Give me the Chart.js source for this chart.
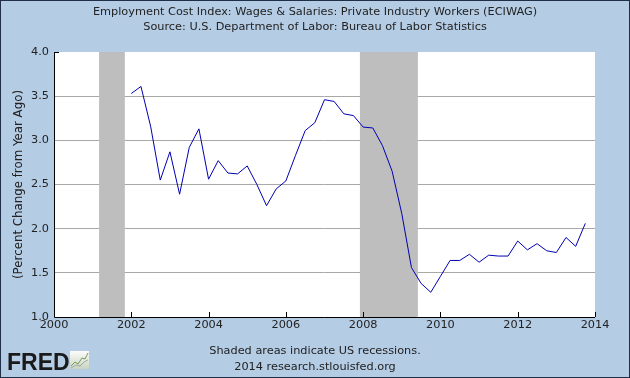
<!DOCTYPE html>
<html>
<head>
<meta charset="utf-8">
<script src="https://cdn.jsdelivr.net/npm/chart.js@4"></script>
<style>
  html, body { margin: 0; padding: 0; background: #b5cce5; }
  #wrap { width: 630px; height: 378px; }
</style>
</head>
<body>
<div id="wrap"><canvas id="myChart" width="630" height="378"></canvas></div>
<script>
// quarterly ECIWAG, % change from year ago, starting 2002 Q1
const startYear = 2002;
const wageGrowth = [
  3.53, 3.61, 3.16, 2.55,   // 2002
  2.87, 2.39, 2.92, 3.13,   // 2003
  2.56, 2.77, 2.63, 2.62,   // 2004
  2.71, 2.50, 2.26, 2.45,   // 2005
  2.54, 2.83, 3.11, 3.20,   // 2006
  3.46, 3.44, 3.30, 3.28,   // 2007
  3.15, 3.14, 2.94, 2.65,   // 2008
  2.17, 1.56, 1.38, 1.28,   // 2009
  1.46, 1.64, 1.64, 1.71,   // 2010
  1.62, 1.70, 1.69, 1.69,   // 2011
  1.86, 1.76, 1.83, 1.75,   // 2012
  1.73, 1.90, 1.80, 2.06    // 2013
];
// recession periods (start month, end month)
const recessions = [['2001-03', '2001-11'], ['2007-12', '2009-06']];
const xTicks = [2000, 2002, 2004, 2006, 2008, 2010, 2012, 2014];
const yTicks = [1.0, 1.5, 2.0, 2.5, 3.0, 3.5, 4.0];

const titleLines = [
  'Employment Cost Index: Wages & Salaries: Private Industry Workers (ECIWAG)',
  'Source: U.S. Department of Labor: Bureau of Labor Statistics'
];
const footerLines = ['Shaded areas indicate US recessions.', '2014 research.stlouisfed.org'];
const yTitle = '(Percent Change from Year Ago)';

const FONT = 'DejaVu Sans';

function monthToYear(s) {
  let p = s.split('-');
  return parseInt(p[0]) + (parseInt(p[1]) - 1) / 12;
}

let points = [];
for (let i = 0; i < wageGrowth.length; i++) {
  points.push({x: startYear + i / 4, y: wageGrowth[i]});
}

const fredPlugin = {
  id: 'fred',
  beforeDraw(chart) {
    const c = chart.ctx, a = chart.chartArea;
    c.save();
    c.fillStyle = '#b5cce5';
    c.fillRect(0, 0, chart.width, chart.height);
    c.fillStyle = '#ffffff';
    c.fillRect(a.left, a.top, a.right - a.left, a.bottom - a.top);
    c.restore();
  },
  beforeDatasetsDraw(chart) {
    // recession shading
    const c = chart.ctx, a = chart.chartArea, xs = chart.scales.x;
    c.save();
    c.fillStyle = '#bebebe';
    recessions.forEach(function(r) {
      let x0 = xs.getPixelForValue(monthToYear(r[0]));
      let x1 = xs.getPixelForValue(monthToYear(r[1]));
      c.fillRect(x0, a.top, x1 - x0, a.bottom - a.top);
    });
    c.restore();
  },
  afterDatasetsDraw(chart) {
    const c = chart.ctx, a = chart.chartArea, xs = chart.scales.x, ys = chart.scales.y;
    c.save();
    c.strokeStyle = '#000000';
    c.lineWidth = 1;
    c.beginPath();
    // axes
    c.moveTo(a.left + 0.5, a.top);
    c.lineTo(a.left + 0.5, a.bottom + 0.5);
    c.lineTo(a.right, a.bottom + 0.5);
    // inward ticks on x
    xTicks.forEach(function(t) {
      let px = Math.round(xs.getPixelForValue(t)) + 0.5;
      c.moveTo(px, a.bottom);
      c.lineTo(px, a.bottom - 5);
    });
    // top tick on y
    let py = Math.round(ys.getPixelForValue(4.0)) + 0.5;
    c.moveTo(a.left, py);
    c.lineTo(a.left + 5, py);
    c.stroke();

    // titles
    c.fillStyle = '#222222';
    c.font = '11.3px "' + FONT + '"';
    c.textAlign = 'center';
    c.textBaseline = 'middle';
    c.fillText(titleLines[0], 315, 12);
    c.fillText(titleLines[1], 315, 27);
    c.fillText(footerLines[0], 315, 351);
    c.fillText(footerLines[1], 315, 367);

    // FRED logo
    c.textAlign = 'left';
    c.textBaseline = 'alphabetic';
    c.font = 'bold 23px "Liberation Sans"';
    c.fillStyle = '#1a1a1a';
    c.fillText('FRED', 7, 370);
    let g = c.createLinearGradient(0, 350, 0, 369);
    g.addColorStop(0, '#ffffff');
    g.addColorStop(1, '#c8d4c0');
    c.fillStyle = g;
    c.fillRect(70, 351, 19, 18);
    c.strokeStyle = '#7c9a5c';
    c.beginPath();
    c.moveTo(71, 366); c.lineTo(75, 362); c.lineTo(78, 364); c.lineTo(82, 358); c.lineTo(85, 359); c.lineTo(88, 353);
    c.stroke();
    c.strokeStyle = '#a0a8a0';
    c.beginPath();
    c.moveTo(71, 368); c.lineTo(76, 365); c.lineTo(80, 366); c.lineTo(84, 362); c.lineTo(88, 360);
    c.stroke();

    // outer frame
    c.strokeStyle = '#1f2f48';
    c.lineWidth = 1;
    c.strokeRect(0.5, 0.5, chart.width - 1, chart.height - 1);
    c.restore();
  }
};

const ctx = document.getElementById('myChart');
const chart = new Chart(ctx, {
  type: 'line',
  data: {
    datasets: [{
      label: 'ECIWAG',
      data: points,
      borderColor: '#0000b4',
      borderWidth: 1,
      pointRadius: 0,
      fill: false,
      tension: 0
    }]
  },
  options: {
    responsive: false,
    animation: false,
    devicePixelRatio: 1,
    layout: { padding: { left: 0, right: 35, top: 52, bottom: 0 } },
    plugins: { legend: { display: false }, tooltip: { enabled: false } },
    scales: {
      x: {
        type: 'linear',
        min: 2000,
        max: 2014,
        afterBuildTicks(s) { s.ticks = xTicks.map(v => ({value: v})); },
        afterFit(s) { s.height = 61; },
        grid: { display: false, drawTicks: false },
        border: { display: false },
        ticks: {
          color: '#222222',
          font: { family: FONT, size: 11.3 },
          padding: 1,
          maxRotation: 0,
          callback: v => String(v)
        }
      },
      y: {
        min: 1.0,
        max: 4.0,
        afterBuildTicks(s) { s.ticks = yTicks.map(v => ({value: v})); },
        afterFit(s) { s.width = 54; },
        grid: {
          drawTicks: false,
          color: c => (c.tick && (c.tick.value === 4 || c.tick.value === 1)) ? 'rgba(0,0,0,0)' : '#a8a8a8',
          lineWidth: 1
        },
        border: { display: false },
        ticks: {
          color: '#222222',
          font: { family: FONT, size: 11.3 },
          padding: 5,
          callback: v => v.toFixed(1)
        },
        title: {
          display: true,
          text: yTitle,
          color: '#222222',
          font: { family: FONT, size: 11.8 },
          padding: { top: 12, bottom: 0 }
        }
      }
    }
  },
  plugins: [fredPlugin]
});
</script>
</body>
</html>
